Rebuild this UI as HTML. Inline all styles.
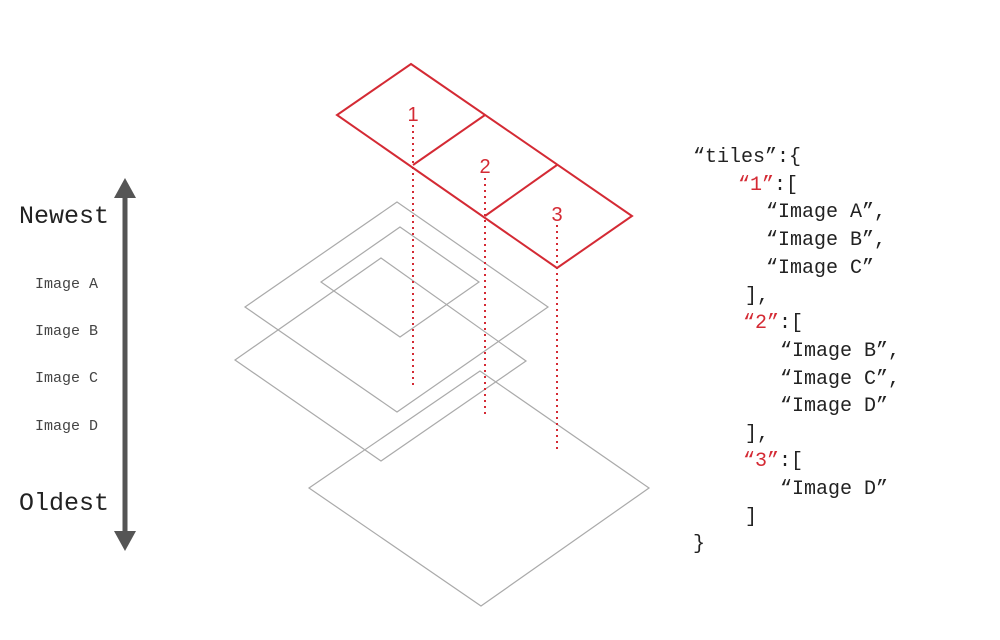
<!DOCTYPE html>
<html><head><meta charset="utf-8"><style>
html,body{margin:0;padding:0;background:#fff;}
body{width:1000px;height:640px;position:relative;overflow:hidden;font-family:"Liberation Mono",monospace;}
.t{position:absolute;white-space:pre;color:#222;line-height:1;}
.j{font-size:20px;}
.r{color:#d42a34;}
</style></head><body>
<svg width="1000" height="640" style="position:absolute;left:0;top:0">
  <line x1="125" y1="192" x2="125" y2="536" stroke="#555" stroke-width="5"/>
  <polygon points="125,178 114,198 136,198" fill="#555"/>
  <polygon points="125,551 114,531 136,531" fill="#555"/>
  <g fill="none" stroke="#aaa" stroke-width="1.2">
    <polygon points="397,202 548,307 397,412 245,307"/>
    <polygon points="400,227 479,282 400,337 321,282"/>
    <polygon points="381,258 526,361 381,461 235,360"/>
    <polygon points="480,371 649,488 481,606 309,488"/>
  </g>
  <g stroke="#d42a34" stroke-width="2" stroke-dasharray="2,4">
    <line x1="413" y1="125" x2="413" y2="385"/>
    <line x1="485" y1="178" x2="485" y2="417"/>
    <line x1="557" y1="225" x2="557" y2="450"/>
  </g>
  <g fill="none" stroke="#d42a34" stroke-width="2">
    <polygon points="411,64 632,216 557,268 337,115"/>
    <line x1="485" y1="115" x2="413" y2="165"/>
    <line x1="557" y1="165" x2="485" y2="216"/>
  </g>
  <g fill="#d42a34" font-family="Liberation Sans, sans-serif" font-size="20" text-anchor="middle">
    <text x="413" y="121">1</text>
    <text x="485" y="173">2</text>
    <text x="557" y="221">3</text>
  </g>
</svg>
<div class="t" style="left:19px;top:204px;font-size:25px">Newest</div>
<div class="t" style="left:19px;top:491px;font-size:25px">Oldest</div>
<div class="t" style="left:35px;top:277px;font-size:15px;color:#444">Image A</div>
<div class="t" style="left:35px;top:324px;font-size:15px;color:#444">Image B</div>
<div class="t" style="left:35px;top:371px;font-size:15px;color:#444">Image C</div>
<div class="t" style="left:35px;top:419px;font-size:15px;color:#444">Image D</div>

<div class="t j" style="left:693px;top:148px">“tiles”:{</div>
<div class="t j" style="left:738px;top:176px"><span class="r">“1”</span>:[</div>
<div class="t j" style="left:766px;top:203px">“Image A”,</div>
<div class="t j" style="left:766px;top:231px">“Image B”,</div>
<div class="t j" style="left:766px;top:259px">“Image C”</div>
<div class="t j" style="left:745px;top:287px">],</div>
<div class="t j" style="left:743px;top:314px"><span class="r">“2”</span>:[</div>
<div class="t j" style="left:780px;top:342px">“Image B”,</div>
<div class="t j" style="left:780px;top:370px">“Image C”,</div>
<div class="t j" style="left:780px;top:397px">“Image D”</div>
<div class="t j" style="left:745px;top:425px">],</div>
<div class="t j" style="left:743px;top:452px"><span class="r">“3”</span>:[</div>
<div class="t j" style="left:780px;top:480px">“Image D”</div>
<div class="t j" style="left:745px;top:508px">]</div>
<div class="t j" style="left:693px;top:535px">}</div>
</body></html>
